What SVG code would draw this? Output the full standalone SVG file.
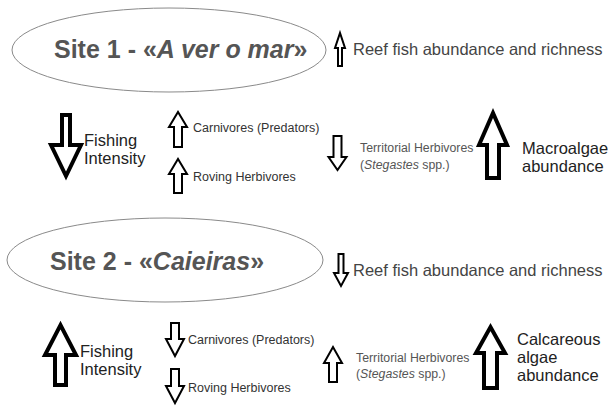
<svg xmlns="http://www.w3.org/2000/svg" width="608" height="406" viewBox="0 0 608 406">
<style>
text{font-family:"Liberation Sans",Arial,sans-serif}
.site{fill:none;stroke:#8a8a8a;stroke-width:1}
.title{font-size:25px;font-weight:bold;fill:#555}
.reef{font-size:16.5px;fill:#444}
.big{font-size:16.5px;fill:#222}
.mid{font-size:12.5px;fill:#333}
.terr{font-size:12.3px;fill:#555}
.thick{fill:#fff;stroke:#000;stroke-width:4;stroke-linejoin:miter;stroke-miterlimit:6}
.thin{fill:#fff;stroke:#000;stroke-width:2;stroke-linejoin:miter;stroke-miterlimit:6}
</style>
<rect width="608" height="406" fill="#fff"/>

<g id="site1">
<ellipse class="site" cx="169" cy="50" rx="157" ry="42"/>
<text class="title" x="54" y="58">Site 1 - «<tspan font-style="italic">A ver o mar</tspan>»</text>
</g>
<g id="reef1">
<polygon class="thin" points="338,66 342,66 342,48 345,48 340,33 335,48 338,48"/>
<text class="reef" x="353" y="55">Reef fish abundance and richness</text>
</g>
<g id="fishing1">
<polygon class="thick" points="62,115 70,115 70,145 81,145 66,176 51,145 62,145"/>
<text class="big" x="84" y="146">Fishing</text>
<text class="big" x="84" y="164">Intensity</text>
</g>
<g id="carnivores1">
<polygon class="thin" points="174,147 182,147 182,127 187,127 178,112 169,127 174,127"/>
<text class="mid" x="193" y="132">Carnivores (Predators)</text>
</g>
<g id="roving1">
<polygon class="thin" points="174,193 182,193 182,174 187,174 178,159 169,174 174,174"/>
<text class="mid" x="193" y="181">Roving Herbivores</text>
</g>
<g id="territorial1">
<polygon class="thin" points="333.5,136 341.5,136 341.5,157 346.5,157 337.5,170 328.5,157 333.5,157"/>
<text class="terr" x="360" y="152">Territorial Herbivores</text>
<text class="terr" x="360" y="169">(<tspan font-style="italic">Stegastes</tspan> spp.)</text>
</g>
<g id="macroalgae">
<polygon class="thick" points="487,178 499,178 499,145 507,145 493,113 479,145 487,145"/>
<text class="big" x="522" y="154">Macroalgae</text>
<text class="big" x="522" y="172">abundance</text>
</g>

<g id="site2">
<ellipse class="site" cx="165" cy="260" rx="158" ry="42"/>
<text class="title" x="50" y="270">Site 2 - «<tspan font-style="italic">Caieiras</tspan>»</text>
</g>
<g id="reef2">
<polygon class="thin" points="338.5,254 343.5,254 343.5,273 348,273 341,286 334,273 338.5,273"/>
<text class="reef" x="353" y="276">Reef fish abundance and richness</text>
</g>
<g id="fishing2">
<polygon class="thick" points="55,385 66,385 66,355 76,355 60.5,325 45,355 55,355"/>
<text class="big" x="80" y="357">Fishing</text>
<text class="big" x="80" y="375">Intensity</text>
</g>
<g id="carnivores2">
<polygon class="thin" points="171,323 179,323 179,339 184,339 175,356 166,339 171,339"/>
<text class="mid" x="188" y="344">Carnivores (Predators)</text>
</g>
<g id="roving2">
<polygon class="thin" points="171,369 179,369 179,386 184,386 175,403 166,386 171,386"/>
<text class="mid" x="188" y="392">Roving Herbivores</text>
</g>
<g id="territorial2">
<polygon class="thin" points="329,382 337,382 337,363 342,363 333,347 324,363 329,363"/>
<text class="terr" x="356" y="362">Territorial Herbivores</text>
<text class="terr" x="356" y="378">(<tspan font-style="italic">Stegastes</tspan> spp.)</text>
</g>
<g id="calcareous">
<polygon class="thick" points="484,388 497,388 497,353 505,353 490.5,327 476,353 484,353"/>
<text class="big" x="517" y="345">Calcareous</text>
<text class="big" x="517" y="363">algae</text>
<text class="big" x="517" y="381">abundance</text>
</g>

<g id="connectors"/>
</svg>
